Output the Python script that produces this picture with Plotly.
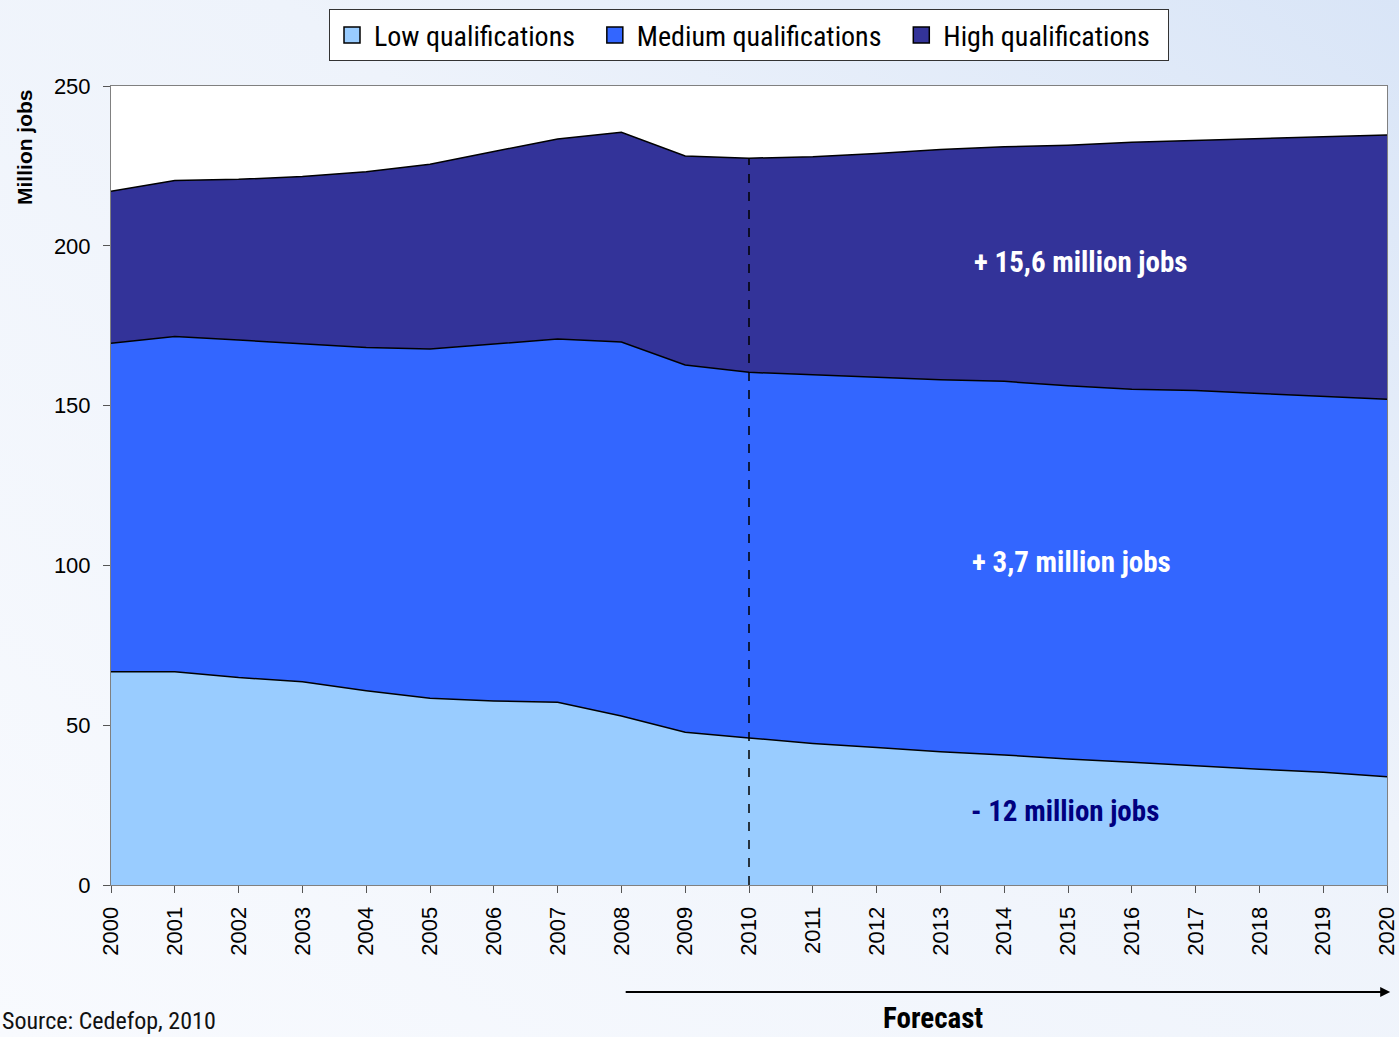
import base64
import plotly.graph_objects as go

years = list(range(2000, 2021))
low = [66.7, 66.7, 64.9, 63.6, 60.8, 58.4, 57.6, 57.2, 52.9, 47.8, 46.0,
       44.3, 43.0, 41.7, 40.7, 39.4, 38.4, 37.2, 36.2, 35.3, 33.9]
low_plus_medium = [169.5, 171.6, 170.5, 169.3, 168.2, 167.7, 169.2, 170.8, 169.9, 162.7, 160.4,
                   159.6, 158.7, 158.1, 157.6, 156.2, 155.1, 154.7, 153.8, 153.0, 152.0]
total = [217.1, 220.4, 220.8, 221.7, 223.2, 225.5, 229.5, 233.4, 235.5, 228.1, 227.4,
         227.9, 228.9, 230.1, 231.0, 231.5, 232.4, 232.9, 233.6, 234.1, 234.7]
medium = [round(a - b, 1) for a, b in zip(low_plus_medium, low)]
high = [round(a - b, 1) for a, b in zip(total, low_plus_medium)]
tick_years = [str(y) for y in years]
forecast_start = 2010

narrow = "Liberation Sans Narrow, Arial Narrow, Roboto Condensed, sans-serif"
arial = "Liberation Sans, Arial, sans-serif"

W, H = 1399, 1037
ML, MR, MT, MB = 111, 12, 86, 152
PW, PH = W - ML - MR, H - MT - MB

fig = go.Figure()
series = [
    ("Low qualifications", low, "#99CCFF"),
    ("Medium qualifications", medium, "#3366FF"),
    ("High qualifications", high, "#333399"),
]
for name, vals, col in series:
    fig.add_trace(go.Scatter(
        x=years, y=vals, name=name, mode="lines", stackgroup="one",
        line=dict(color="#000000", width=1.5), fillcolor=col, showlegend=False,
    ))
# legend entries with square swatches
for name, vals, col in series:
    fig.add_trace(go.Scatter(
        x=[None], y=[None], name=name + "\u00a0\u00a0", mode="markers",
        marker=dict(symbol="square", size=17, color=col, line=dict(color="black", width=1.5)),
    ))

idx = years.index(forecast_start)
fig.add_shape(type="line", x0=forecast_start, x1=forecast_start, y0=0, y1=total[idx],
              xref="x", yref="y", line=dict(color="black", width=1.5, dash="dash"), layer="above")

ann_font = dict(family=narrow, size=29, color="white")
fig.add_annotation(x=2015.2, y=195, text="<b>+ 15,6 million jobs</b>", xanchor="center", yanchor="middle",
                   showarrow=False, font=ann_font, xref="x", yref="y")
fig.add_annotation(x=2015.05, y=101, text="<b>+ 3,7 million jobs</b>", xanchor="center", yanchor="middle",
                   showarrow=False, font=ann_font, xref="x", yref="y")
fig.add_annotation(x=2014.95, y=23, text="<b>- 12 million jobs</b>", xanchor="center", yanchor="middle",
                   showarrow=False, font=dict(family=narrow, size=29, color="#000080"),
                   xref="x", yref="y")

fig.add_annotation(x=-0.068, y=0.924, xref="paper", yref="paper", text="<b>Million jobs</b>",
                   xanchor="center", yanchor="middle",
                   textangle=-90, showarrow=False, font=dict(family=arial, size=21, color="black"))

fig.add_annotation(x=1.0025, y=-0.134, ax=-766, ay=0, xref="paper", yref="paper",
                   axref="pixel", ayref="pixel", text="", showarrow=True,
                   arrowhead=2, arrowsize=1, arrowwidth=2, arrowcolor="black")
fig.add_annotation(x=0.644, y=-0.167, xref="paper", yref="paper", text="<b>Forecast</b>",
                   xanchor="center", yanchor="middle",
                   showarrow=False, font=dict(family=narrow, size=29, color="black"))
fig.add_annotation(x=-0.087, y=-0.170, xref="paper", yref="paper", xanchor="left", yanchor="middle",
                   text="Source: Cedefop, 2010", showarrow=False,
                   font=dict(family=narrow, size=24, color="#111111"))

svg = ('<svg xmlns="http://www.w3.org/2000/svg" width="%d" height="%d">'
       '<defs><linearGradient id="g" x1="0" y1="1" x2="1" y2="0">'
       '<stop offset="0" stop-color="#f8fafe"/><stop offset="0.6" stop-color="#eef3fb"/>'
       '<stop offset="1" stop-color="#d9e5f7"/></linearGradient></defs>'
       '<rect width="%d" height="%d" fill="url(#g)"/>'
       '<rect x="%d" y="%d" width="%d" height="%d" fill="#ffffff"/></svg>') % (W, H, W, H, ML, MT, PW, PH)
bg_src = "data:image/svg+xml;base64," + base64.b64encode(svg.encode()).decode()
fig.add_layout_image(source=bg_src, xref="paper", yref="paper", x=-ML / PW, y=1 + MT / PH,
                     sizex=W / PW, sizey=H / PH, xanchor="left", yanchor="top",
                     sizing="stretch", layer="below")

fig.update_layout(
    width=W, height=H,
    margin=dict(l=ML, r=MR, t=MT, b=MB, autoexpand=False),
    paper_bgcolor="#f1f5fc", plot_bgcolor="white",
    showlegend=True,
    legend=dict(orientation="h", x=0.5, xanchor="center", y=1.096, yanchor="top",
                bgcolor="white", bordercolor="#333333", borderwidth=1,
                font=dict(family=narrow, size=28, color="black"),
                traceorder="normal", itemwidth=34),
    xaxis=dict(range=[2000, 2020], tickvals=years, ticktext=tick_years, tickangle=-90,
               showgrid=False, zeroline=False, showline=True, linecolor="#808080", linewidth=1,
               mirror=True, ticks="outside", ticklen=7, tickcolor="#555555", automargin=False,
               ticklabelstandoff=5, ticklabeloverflow="allow",
               tickfont=dict(family=arial, size=22, color="black")),
    yaxis=dict(range=[0, 250], tickvals=[0, 50, 100, 150, 200, 250], showgrid=False,
               zeroline=False, showline=True, linecolor="#808080", linewidth=1, mirror=True,
               ticks="outside", ticklen=7, tickcolor="#555555", ticklabelstandoff=8, automargin=False,
               tickfont=dict(family=arial, size=22, color="black")),
)

fig.write_html("out.html", config={"displayModeBar": False},
               post_script="document.body.style.margin='0';document.body.style.overflow='hidden';")
